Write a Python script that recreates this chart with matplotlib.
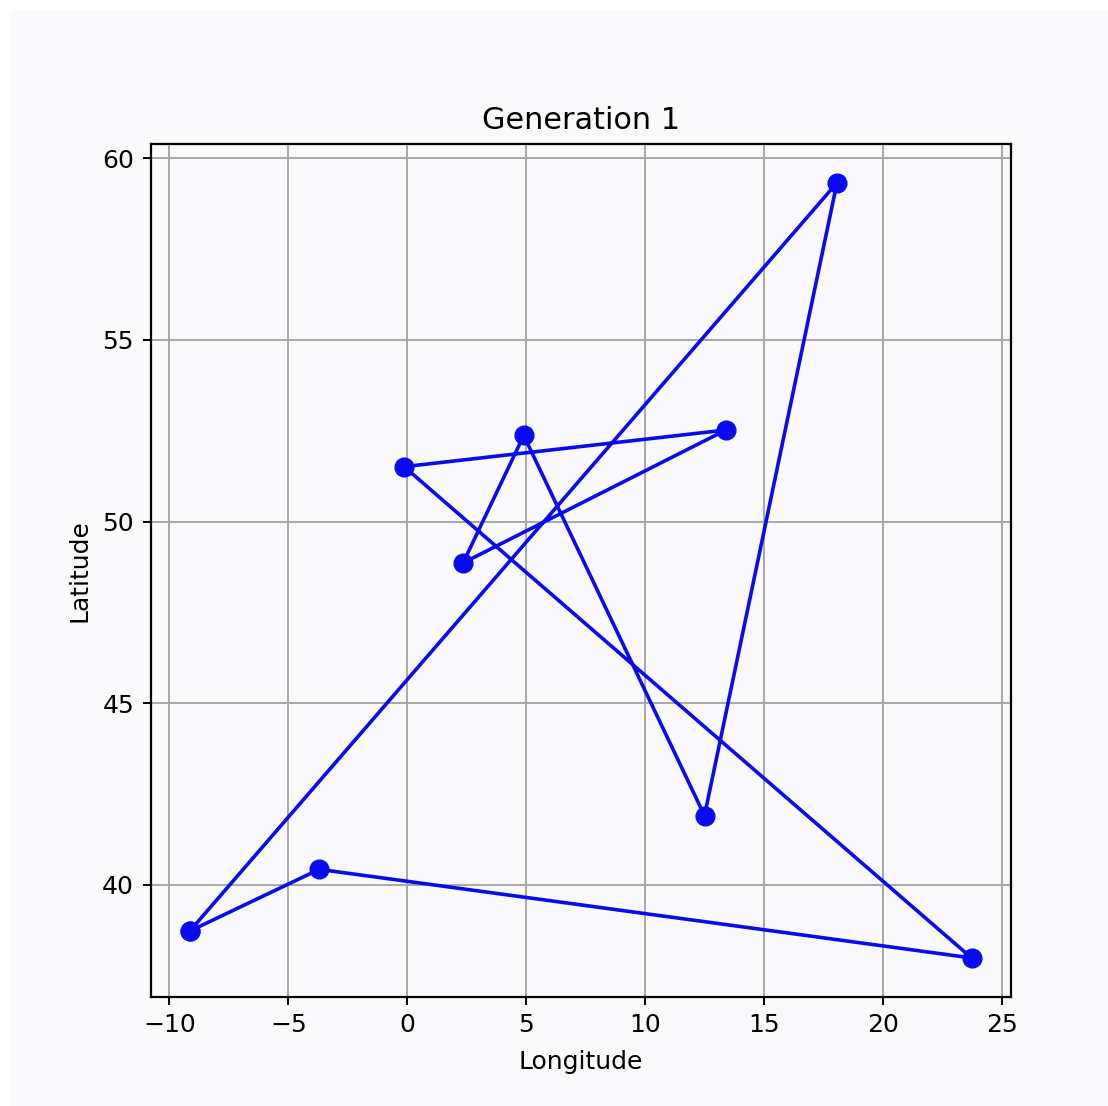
import matplotlib
matplotlib.use('Agg')
import matplotlib.pyplot as plt
from matplotlib.patches import Rectangle

# tour order for generation 1
cities = ['Lisbon', 'Stockholm', 'Rome', 'Amsterdam', 'Paris',
          'Berlin', 'London', 'Athens', 'Madrid', 'Lisbon']
lons = [-9.14, 18.07, 12.50, 4.90, 2.35, 13.40, -0.13, 23.73, -3.70, -9.14]
lats = [38.72, 59.33, 41.90, 52.37, 48.86, 52.52, 51.51, 37.98, 40.42, 38.72]

W, H = 1108, 1106
bg = '#fafafd'

fig = plt.figure(figsize=(W / 100, H / 100), dpi=100, facecolor='white')
fig.patches.append(Rectangle((11 / W, 0), 1, (H - 10) / H, transform=fig.transFigure,
                             facecolor=bg, edgecolor='none', zorder=-10))

ax = fig.add_axes([150.7 / W, (H - 996.7) / H, 860 / W, 852.7 / H])
ax.set_facecolor(bg)

ax.plot(lons, lats, 'o-', color='#0a0af0', lw=2.6, markersize=13.5)

ax.set_title('Generation 1', fontsize=21.8, pad=11)
ax.set_xlabel('Longitude', fontsize=18, labelpad=9)
ax.set_ylabel('Latitude', fontsize=18, labelpad=8)
ax.tick_params(labelsize=18, length=6, width=1.4, pad=6)
ax.grid(True, color='#a8a8a8', lw=1.4)
for s in ax.spines.values():
    s.set_linewidth(1.6)

fig.savefig('out.png', dpi=100, facecolor=fig.get_facecolor())
